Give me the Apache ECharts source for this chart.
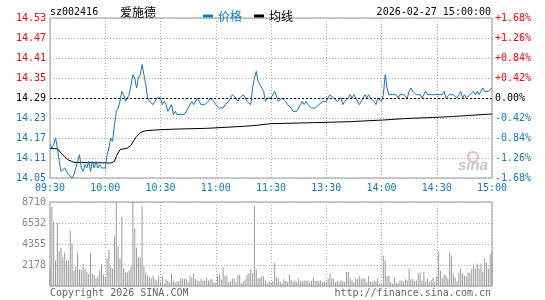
<!DOCTYPE html>
<html>
<head>
<meta charset="utf-8">
<script src="https://cdn.jsdelivr.net/npm/echarts@6/dist/echarts.min.js"></script>
<style>
html, body { margin: 0; padding: 0; background: #fff; }
#charts { width: 545px; height: 300px; }
</style>
</head>
<body>
<div id="charts"></div>
<script>
var stockCode = "sz002416";
var stockName = "爱施德";
var updateTime = "2026-02-27 15:00:00";
var prevClose = 14.29;
var timeLabels = ["09:30", "10:00", "10:30", "11:00", "11:30", "13:30", "14:00", "14:30", "15:00"];
var volTickLabels = ["", "2178", "4355", "6532", "8710"];

// one price per minute, 09:30 .. 11:30 then 13:01 .. 15:00
var priceValues = [
	14.15, 14.14, 14.15, 14.17, 14.14, 14.10, 14.07, 14.07, 14.08, 14.07,
	14.06, 14.06, 14.05, 14.06, 14.06, 14.10, 14.12, 14.08, 14.07, 14.09,
	14.08, 14.10, 14.07, 14.10, 14.08, 14.10, 14.08, 14.09, 14.08, 14.08,
	14.08, 14.12, 14.14, 14.17, 14.16, 14.21, 14.25, 14.26, 14.28, 14.31,
	14.30, 14.28, 14.29, 14.30, 14.33, 14.36, 14.35, 14.32, 14.35, 14.36,
	14.39, 14.36, 14.33, 14.29, 14.28, 14.28, 14.27, 14.28, 14.29, 14.29,
	14.29, 14.27, 14.28, 14.27, 14.25, 14.26, 14.27, 14.24, 14.25, 14.24,
	14.24, 14.24, 14.24, 14.24, 14.24, 14.26, 14.27, 14.28, 14.27, 14.27,
	14.29, 14.29, 14.27, 14.27, 14.27, 14.27, 14.28, 14.29, 14.29, 14.28,
	14.27, 14.27, 14.26, 14.26, 14.26, 14.27, 14.27, 14.28, 14.28, 14.30,
	14.30, 14.29, 14.28, 14.29, 14.29, 14.30, 14.29, 14.28, 14.28, 14.27,
	14.32, 14.35, 14.37, 14.34, 14.33, 14.33, 14.31, 14.28, 14.29, 14.29,
	14.29, 14.30, 14.31, 14.31, 14.28, 14.28, 14.29, 14.29, 14.28, 14.27,
	14.27, 14.26, 14.25, 14.25, 14.25, 14.26, 14.27, 14.28, 14.27, 14.28,
	14.27, 14.27, 14.26, 14.26, 14.26, 14.26, 14.27, 14.27, 14.28, 14.28,
	14.28, 14.29, 14.30, 14.30, 14.29, 14.29, 14.28, 14.28, 14.29, 14.27,
	14.28, 14.28, 14.29, 14.30, 14.29, 14.30, 14.29, 14.29, 14.27, 14.27,
	14.29, 14.30, 14.29, 14.30, 14.29, 14.29, 14.28, 14.27, 14.29, 14.29,
	14.28, 14.30, 14.36, 14.32, 14.30, 14.30, 14.30, 14.30, 14.30, 14.29,
	14.30, 14.30, 14.30, 14.30, 14.29, 14.31, 14.32, 14.31, 14.31, 14.30,
	14.30, 14.30, 14.29, 14.30, 14.31, 14.30, 14.30, 14.30, 14.30, 14.30,
	14.30, 14.30, 14.30, 14.30, 14.31, 14.29, 14.29, 14.30, 14.30, 14.30,
	14.30, 14.29, 14.30, 14.31, 14.29, 14.30, 14.29, 14.29, 14.30, 14.30,
	14.31, 14.30, 14.31, 14.30, 14.30, 14.32, 14.31, 14.31, 14.31, 14.31,
	14.32
];

// 均线 read at its bends
var avgMinutes = [0, 4, 6, 8, 10, 13, 33, 35, 36, 38, 42, 44, 45, 47, 49, 52, 60, 70, 85, 95, 105, 112, 120, 143, 163, 181, 192, 205, 217, 226, 234, 240];
var avgValues = [14.138, 14.138, 14.125, 14.113, 14.104, 14.097, 14.095, 14.100, 14.115, 14.135, 14.140, 14.148, 14.158, 14.175, 14.186, 14.192, 14.195, 14.197, 14.199, 14.202, 14.205, 14.208, 14.213, 14.216, 14.219, 14.224, 14.228, 14.231, 14.234, 14.237, 14.240, 14.242];

var volumeValues = [
	2100, 8190, 6640, 2650, 6540, 3580, 3960, 2960, 3470, 2650,
	2650, 5740, 4400, 1620, 2000, 3470, 1720, 1720, 2300, 1820,
	1440, 1240, 3370, 1310, 1140, 790, 1000, 1620, 2300, 1200,
	890, 2860, 3780, 2030, 1820, 5130, 8700, 4090, 2860, 7190,
	1820, 1410, 1410, 1620, 2030, 8700, 5950, 3990, 2960, 2960,
	8220, 2030, 1410, 1100, 890, 790, 1100, 690, 580, 1000,
	380, 1000, 280, 690, 580, 380, 1310, 480, 380, 480,
	480, 790, 790, 790, 790, 380, 1100, 890, 1310, 690,
	580, 480, 790, 580, 580, 890, 580, 690, 690, 380,
	280, 1100, 1200, 690, 1930, 1000, 1100, 380, 480, 790,
	790, 380, 1100, 1200, 280, 480, 690, 1200, 1310, 1720,
	1310, 8290, 1720, 790, 890, 1000, 1000, 580, 280, 450,
	380, 500, 2400, 900, 790, 450, 280, 720, 520, 450,
	1200, 650, 450, 580, 450, 790, 480, 480, 580, 580,
	580, 380, 520, 890, 520, 580, 480, 580, 380, 480,
	380, 790, 1310, 790, 720, 380, 520, 380, 580, 480,
	450, 1440, 1440, 790, 580, 380, 790, 720, 1000, 790,
	790, 790, 380, 1030, 480, 380, 580, 480, 790, 240,
	170, 3130, 2650, 1000, 1100, 450, 240, 890, 340, 280,
	580, 580, 450, 690, 580, 1820, 690, 690, 520, 580,
	1310, 1410, 580, 1480, 450, 790, 450, 580, 890, 380,
	1000, 3580, 1620, 790, 1200, 1100, 790, 3470, 3060, 1310,
	890, 480, 1410, 1820, 1310, 1100, 1000, 1410, 1410, 1820,
	2240, 1820, 2340, 1820, 2340, 1510, 2860, 2400, 1820, 3270,
	3580
];

var MONO = '"DejaVu Sans Mono", monospace';
var RED = "#ff0000";
var BLUE = "#1078c8";
var GRAY = "#999999";

function toCents(p) {
	return Math.round((p - prevClose) * 100000) / 1000;
}

function sideColor(v) {
	if (v > 0.001) return RED;
	if (v < -0.001) return BLUE;
	return "#000";
}

function echart() {
	var priceData = [];
	for (var i = 0; i < priceValues.length; i++) {
		priceData.push([i, toCents(priceValues[i])]);
	}
	var avgData = [];
	for (var j = 0; j < avgMinutes.length; j++) {
		avgData.push([avgMinutes[j], toCents(avgValues[j])]);
	}
	var volData = [];
	for (var k = 0; k < volumeValues.length; k++) {
		volData.push([k, volumeValues[k]]);
	}

	var dotted = { show: true, lineStyle: { color: "#aaaaaa", type: [1, 2], width: 1 } };

	var chart = echarts.init(document.getElementById("charts"), null, { renderer: "canvas" });
	var option = {
		animation: false,
		backgroundColor: "#fff",
		legend: {
			left: 198,
			top: 5,
			itemWidth: 10,
			itemHeight: 3,
			itemGap: 12,
			icon: "rect",
			textStyle: { fontSize: 12, fontFamily: '"Noto Sans CJK SC"' },
			data: [
				{ name: "价格", textStyle: { color: BLUE } },
				{ name: "均线", textStyle: { color: "#000" } }
			]
		},
		graphic: {
			elements: [
				{ type: "text", x: 50, y: 12, style: { text: stockCode, font: "10px " + MONO, fill: "#000", verticalAlign: "middle" } },
				{ type: "text", x: 120, y: 12, style: { text: stockName, font: '12px "Noto Sans CJK SC"', fill: "#000", verticalAlign: "middle" } },
				{ type: "text", x: 491, y: 12, style: { text: updateTime, font: "10px " + MONO, fill: "#000", align: "right", verticalAlign: "middle" } },
				{ type: "text", x: 50, y: 293, style: { text: "Copyright 2026 SINA.COM", font: "10px " + MONO, fill: "#666", verticalAlign: "middle" } },
				{ type: "text", x: 491, y: 293, style: { text: "http://finance.sina.com.cn", font: "10px " + MONO, fill: "#666", align: "right", verticalAlign: "middle" } },
				{ type: "circle", shape: { cx: 473, cy: 157, r: 5 }, style: { fill: "none", stroke: "#f3b5b5", lineWidth: 2 }, z: 1 },
				{ type: "text", x: 458, y: 166, style: { text: "sina", font: "italic bold 15px Arial", fill: "#c8c8c8", verticalAlign: "middle" }, z: 1 }
			]
		},
		grid: [
			{ left: 50, right: 53, top: 18, height: 160, show: true, borderColor: GRAY, borderWidth: 1 },
			{ left: 50, right: 53, top: 202, height: 84, show: true, borderColor: GRAY, borderWidth: 1 }
		],
		xAxis: [{
			type: "value",
			gridIndex: 0,
			min: 0,
			max: 240,
			interval: 30,
			axisLine: { show: false },
			axisTick: { show: false },
			splitLine: dotted,
			axisLabel: {
				margin: 5,
				color: BLUE,
				fontSize: 10,
				fontFamily: MONO,
				formatter: function(v) {
					return timeLabels[Math.round(v / 30)];
				}
			}
		}, {
			type: "value",
			gridIndex: 1,
			min: 0,
			max: 240,
			interval: 30,
			axisLine: { show: false },
			axisTick: { show: false },
			splitLine: dotted,
			axisLabel: { show: false }
		}],
		yAxis: [{
			type: "value",
			gridIndex: 0,
			min: -24,
			max: 24,
			interval: 6,
			axisLine: { show: false },
			axisTick: { show: false },
			splitLine: dotted,
			axisLabel: {
				margin: 4,
				fontSize: 10,
				fontFamily: MONO,
				color: function(v) {
					return sideColor(Number(v));
				},
				formatter: function(v) {
					return (prevClose + v / 100).toFixed(2);
				}
			}
		}, {
			type: "value",
			gridIndex: 0,
			position: "right",
			min: -24,
			max: 24,
			interval: 6,
			axisLine: { show: false },
			axisTick: { show: false },
			splitLine: { show: false },
			axisLabel: {
				margin: 3,
				fontSize: 10,
				fontFamily: MONO,
				color: function(v) {
					return sideColor(Number(v));
				},
				formatter: function(v) {
					var pct = v / prevClose;
					return (pct > 0.0001 ? "+" : "") + pct.toFixed(2) + "%";
				}
			}
		}, {
			type: "value",
			gridIndex: 1,
			min: 0,
			max: 8710,
			interval: 2177.5,
			axisLine: { show: false },
			axisTick: { show: false },
			splitLine: dotted,
			axisLabel: {
				margin: 4,
				fontSize: 10,
				fontFamily: MONO,
				color: "#888",
				formatter: function(v) {
					return volTickLabels[Math.round(v / 2177.5)];
				}
			}
		}],
		series: [{
			name: "价格",
			type: "line",
			xAxisIndex: 0,
			yAxisIndex: 0,
			showSymbol: false,
			color: BLUE,
			lineStyle: { color: BLUE, width: 1 },
			data: priceData,
			z: 3,
			markLine: {
				silent: true,
				symbol: "none",
				label: { show: false },
				lineStyle: { color: "#000", type: [2, 2], width: 1 },
				data: [{ yAxis: 0 }]
			}
		}, {
			name: "均线",
			type: "line",
			xAxisIndex: 0,
			yAxisIndex: 0,
			showSymbol: false,
			color: "#000",
			lineStyle: { color: "#000", width: 1 },
			data: avgData,
			z: 2
		}, {
			name: "成交量",
			type: "bar",
			xAxisIndex: 1,
			yAxisIndex: 2,
			barWidth: 1,
			itemStyle: { color: GRAY },
			data: volData
		}]
	};
	chart.setOption(option);
}

echart();
</script>
</body>
</html>
